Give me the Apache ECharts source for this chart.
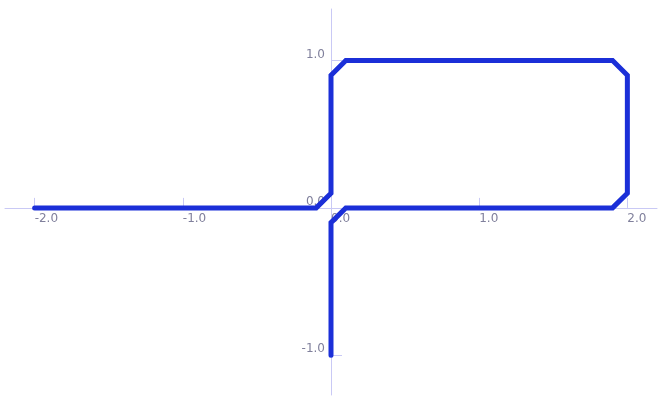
<!DOCTYPE html>
<html>
<head>
<meta charset="utf-8">
<script src="https://cdn.jsdelivr.net/npm/echarts@6/dist/echarts.min.js"></script>
<style>
  html, body { margin: 0; padding: 0; background: #ffffff; }
  #chart { width: 668px; height: 396px; }
</style>
</head>
<body>
<div id="chart"></div>
<script>
// Path vertices (x, y) of the chamfered loop
const pathX = [-2.0, -0.1, 0.0, 0.0, 0.1, 1.9, 2.0, 2.0, 1.9, 0.1, 0.0, 0.0];
const pathY = [0.0, 0.0, 0.1, 0.9, 1.0, 1.0, 0.9, 0.1, 0.0, 0.0, -0.1, -1.0];

// Tick positions and labels
const xLabelValues = [-2, -1, 0, 1, 2];
const xTickValues = [-2, -1, 1, 2];
const yLabelValues = [-1, 0, 1];
const yTickValues = [-1, 1];

const points = pathX.map((x, i) => [x, pathY[i]]);

const W = 668, H = 396;
const gridBox = { left: 5, right: 11, top: 9, bottom: 1 };
const xMin = -2.2, xMax = 2.2, yMin = -1.27, yMax = 1.35;

// Shift each axis from the grid edge onto the other axis's zero
const gridW = W - gridBox.left - gridBox.right;
const gridH = H - gridBox.top - gridBox.bottom;
const xAxisOffset = -(gridH * (0 - yMin) / (yMax - yMin));
const yAxisOffset = -(gridW * (0 - xMin) / (xMax - xMin));

const axisColor = '#c9c9f5';
const labelColor = '#80809c';

const chart = echarts.init(document.getElementById('chart'), null, { renderer: 'canvas' });
chart.setOption({
  animation: false,
  grid: Object.assign({ containLabel: false, outerBoundsMode: 'none' }, gridBox),
  xAxis: {
    type: 'value',
    min: xMin,
    max: xMax,
    position: 'bottom',
    offset: xAxisOffset,
    splitLine: { show: false },
    axisLine: { onZero: false, lineStyle: { color: axisColor, width: 1 } },
    axisTick: { show: true, inside: true, length: 10, customValues: xTickValues, lineStyle: { color: axisColor } },
    axisLabel: {
      customValues: xLabelValues,
      formatter: v => v.toFixed(1),
      align: 'left',
      margin: 5,
      color: labelColor,
      fontFamily: 'DejaVu Sans',
      fontSize: 12
    }
  },
  yAxis: {
    type: 'value',
    min: yMin,
    max: yMax,
    position: 'left',
    offset: yAxisOffset,
    splitLine: { show: false },
    axisLine: { onZero: false, lineStyle: { color: axisColor, width: 1 } },
    axisTick: { show: true, inside: true, length: 11, customValues: yTickValues, lineStyle: { color: axisColor } },
    axisLabel: {
      customValues: yLabelValues,
      formatter: v => v.toFixed(1),
      verticalAlign: 'bottom',
      margin: 6,
      color: labelColor,
      fontFamily: 'DejaVu Sans',
      fontSize: 12
    }
  },
  series: [{
    type: 'line',
    data: points,
    showSymbol: false,
    symbol: 'none',
    lineStyle: { color: '#1b2fd8', width: 5, cap: 'round', join: 'miter' }
  }]
});
</script>
</body>
</html>
